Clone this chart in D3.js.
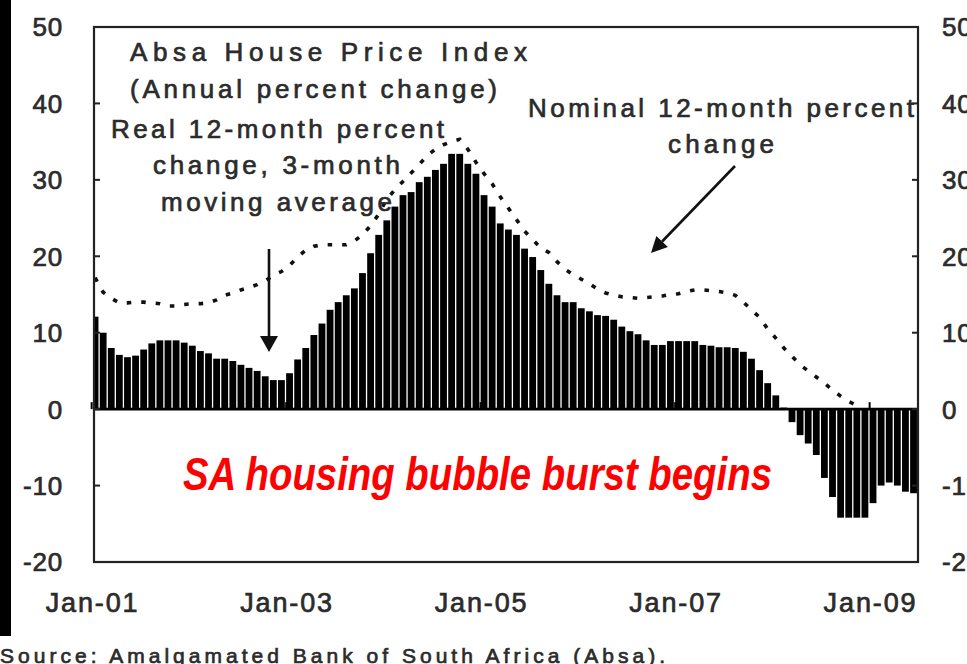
<!DOCTYPE html>
<html><head><meta charset="utf-8">
<script src="https://cdn.jsdelivr.net/npm/d3@7"></script>
<style>body{margin:0;background:#fff;overflow:hidden}</style>
</head><body><svg id="c" width="967" height="664"></svg>
<script>
// ---- data ----
const startMonth = "2001-01";
// Real 12-month percent change, 3-month moving average (monthly bars)
const realChange = [
  12.1, 10.0, 8.0, 7.1, 6.8, 7.0, 7.8, 8.6, 9.0, 9.0,
  9.0, 8.7, 8.3, 7.6, 7.3, 6.6, 6.6, 6.3, 5.8, 5.4,
  5.0, 4.3, 3.8, 3.8, 4.7, 6.5, 8.0, 9.7, 11.2, 13.0,
  14.0, 14.9, 15.8, 17.8, 20.4, 22.8, 24.7, 26.5, 28.0, 28.4,
  29.7, 30.4, 31.3, 32.1, 33.4, 33.4, 32.1, 30.8, 28.0, 26.5,
  24.3, 23.5, 22.8, 21.0, 19.9, 18.2, 16.4, 14.9, 14.0, 14.0,
  13.2, 12.8, 12.3, 12.2, 11.7, 10.8, 10.2, 9.8, 9.0, 8.4,
  8.4, 8.9, 8.9, 8.9, 8.9, 8.4, 8.3, 8.1, 8.1, 8.0,
  7.5, 6.6, 5.1, 3.4, 1.8, 0.2, -1.7, -3.4, -4.5, -6.0,
  -9.0, -11.5, -14.2, -14.2, -14.2, -14.2, -12.3, -10.0, -9.6, -10.0,
  -10.8, -11.0
];
// Nominal 12-month percent change (dotted line)
const nominalChange = [
  17.2, 15.3, 14.5, 13.9, 13.9, 14.0, 14.0, 13.9, 13.8, 13.5,
  13.5, 13.7, 13.8, 13.8, 13.9, 14.3, 14.9, 15.2, 15.6, 15.9,
  16.3, 16.8, 17.5, 18.0, 18.8, 19.9, 20.8, 21.3, 21.5, 21.5,
  21.5, 21.5, 22.0, 22.8, 24.0, 25.5, 27.5, 28.7, 29.8, 30.9,
  32.0, 33.2, 34.0, 34.6, 35.0, 35.3, 34.0, 32.3, 30.8, 29.5,
  27.8, 26.3, 24.8, 23.3, 22.2, 21.1, 20.5, 19.3, 18.3, 17.6,
  17.0, 16.4, 15.7, 15.2, 14.9, 14.7, 14.6, 14.5, 14.6, 14.7,
  14.8, 15.0, 15.1, 15.4, 15.6, 15.6, 15.5, 15.4, 15.2, 14.9,
  14.0, 13.0, 12.0, 10.5, 9.3, 8.0, 6.9, 5.8, 5.0, 4.2,
  3.4, 2.5, 1.7, 1.0, 0.5
];
const yTicks = [50, 40, 30, 20, 10, 0, -10, -20];
const xTickMonths = ["2001-01", "2003-01", "2005-01", "2007-01", "2009-01"];
const xTickLabels = ["Jan-01", "Jan-03", "Jan-05", "Jan-07", "Jan-09"];

// ---- setup ----
const svg = d3.select("#c");
const fmt = d3.timeFormat("%Y-%m");
const start = d3.timeParse("%Y-%m")(startMonth);
const months = d3.timeMonth.range(start, d3.timeMonth.offset(start, realChange.length)).map(fmt);

const L = 94, R = 918, T = 27, B = 562;
const x = d3.scaleBand().domain(months).range([91, 917.6]).paddingInner(0.16).paddingOuter(0.08);
const y = d3.scaleLinear().domain([-20, 50]).range([B, T]);
const bw = x.bandwidth();
const ink = "#2b2b2b";
const font = "'Liberation Sans', Arial, Helvetica, sans-serif";

// medium-weight text look (normal glyphs with a thin outline)
function medium(sel) {
  return sel.attr("font-family", font).attr("fill", ink)
    .attr("stroke", ink).attr("stroke-width", 0.7).attr("paint-order", "stroke");
}

// left dark strip of the scan
svg.append("rect").attr("x", 0).attr("y", 0).attr("width", 11).attr("height", 636).attr("fill", "#000");

svg.append("defs").append("clipPath").attr("id", "plot")
  .append("rect").attr("x", L).attr("y", T).attr("width", R - L).attr("height", B - T);

// bars
svg.append("g").attr("clip-path", "url(#plot)")
  .selectAll("rect").data(realChange).join("rect")
  .attr("x", (d, i) => x(months[i]))
  .attr("width", bw)
  .attr("y", d => y(Math.max(0, d)))
  .attr("height", d => Math.abs(y(d) - y(0)))
  .attr("fill", "#000");

// nominal dotted line
const line = d3.line()
  .x((d, i) => x(months[i]) + bw / 2)
  .y(d => y(d));
svg.append("path").datum(nominalChange)
  .attr("d", line).attr("fill", "none")
  .attr("stroke", "#111").attr("stroke-width", 3.6)
  .attr("stroke-dasharray", "4.5 10");

// zero line
svg.append("line").attr("x1", L).attr("x2", R).attr("y1", y(0)).attr("y2", y(0))
  .attr("stroke", "#000").attr("stroke-width", 2.6);

// x ticks on zero line
svg.append("g").selectAll("line").data(xTickMonths).join("line")
  .attr("x1", d => x(d)).attr("x2", d => x(d))
  .attr("y1", y(0)).attr("y2", y(0) - 7)
  .attr("stroke", "#000").attr("stroke-width", 2);

// frame
svg.append("rect").attr("x", L).attr("y", T).attr("width", R - L).attr("height", B - T)
  .attr("fill", "none").attr("stroke", "#222").attr("stroke-width", 2.2);

// y ticks inside both sides
const tickG = svg.append("g");
tickG.selectAll(".tl").data(yTicks).join("line")
  .attr("x1", L).attr("x2", L + 6).attr("y1", d => y(d)).attr("y2", d => y(d))
  .attr("stroke", "#222").attr("stroke-width", 2);
tickG.selectAll(".tr").data(yTicks).join("line")
  .attr("x1", R - 6).attr("x2", R).attr("y1", d => y(d)).attr("y2", d => y(d))
  .attr("stroke", "#222").attr("stroke-width", 2);

// y labels (right ones are cut by the page edge as in the reference)
medium(svg.append("g").selectAll("text").data(yTicks).join("text")
  .attr("x", 63).attr("y", d => y(d)).attr("dy", "0.36em")
  .attr("text-anchor", "end").attr("font-size", 26).attr("letter-spacing", 0.8))
  .text(d => d);
medium(svg.append("g").selectAll("text").data(yTicks).join("text")
  .attr("x", 942).attr("y", d => y(d)).attr("dy", "0.36em")
  .attr("text-anchor", "start").attr("font-size", 26).attr("letter-spacing", 0.8))
  .text(d => d);

// x labels
medium(svg.append("g").selectAll("text").data(xTickMonths).join("text")
  .attr("x", d => x(d)).attr("y", 602).attr("dy", "0.36em")
  .attr("text-anchor", "middle").attr("font-size", 27)
  .attr("textLength", 92).attr("lengthAdjust", "spacing"))
  .text((d, i) => xTickLabels[i]);

// annotation text
const notes = [
  { t: "Absa House Price Index", x: 130, y: 52, w: 397 },
  { t: "(Annual percent change)", x: 130, y: 89, w: 367 },
  { t: "Real 12-month percent", x: 111, y: 129, w: 333 },
  { t: "change, 3-month", x: 153, y: 165, w: 247 },
  { t: "moving average", x: 161, y: 202, w: 231 },
  { t: "Nominal 12-month percent", x: 528, y: 108, w: 386 },
  { t: "change", x: 668, y: 144, w: 106 }
];
medium(svg.append("g").selectAll("text").data(notes).join("text")
  .attr("x", d => d.x).attr("y", d => d.y).attr("dy", "0.36em")
  .attr("font-size", 26)
  .attr("textLength", d => d.w).attr("lengthAdjust", "spacing"))
  .text(d => d.t);

// arrows
function arrow(x1, y1, x2, y2, hl, hw) {
  const dx = x2 - x1, dy = y2 - y1, len = Math.hypot(dx, dy);
  const ux = dx / len, uy = dy / len, px = -uy, py = ux;
  const bx = x2 - ux * hl, by = y2 - uy * hl;
  svg.append("line").attr("x1", x1).attr("y1", y1).attr("x2", bx).attr("y2", by)
    .attr("stroke", "#111").attr("stroke-width", 2.6);
  svg.append("path")
    .attr("d", `M${x2},${y2}L${bx + px * hw},${by + py * hw}L${bx - px * hw},${by - py * hw}Z`)
    .attr("fill", "#111");
}
arrow(269, 249, 269, 352, 16, 9);
arrow(735, 166, 651, 253, 16, 8);

// red headline
svg.append("text").attr("x", 183).attr("y", 490)
  .attr("font-family", "'Liberation Sans Narrow', 'Arial Narrow', 'Liberation Sans', Arial, sans-serif")
  .attr("font-size", 47).attr("font-weight", "bold").attr("font-style", "italic")
  .attr("fill", "#ff0000").attr("textLength", 589).attr("lengthAdjust", "spacingAndGlyphs")
  .text("SA housing bubble burst begins");

// source
medium(svg.append("text").attr("x", 0).attr("y", 663)
  .attr("font-size", 21)
  .attr("textLength", 665).attr("lengthAdjust", "spacing"))
  .text("Source: Amalgamated Bank of South Africa (Absa).");
</script>
</body></html>
